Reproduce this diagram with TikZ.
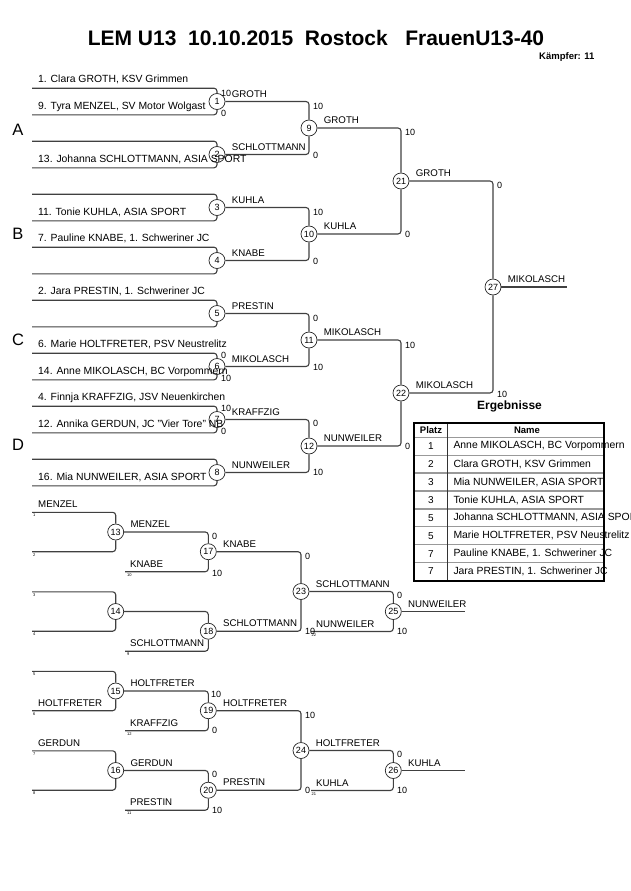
\documentclass[tikz,border=0pt]{standalone}
\usepackage{fontspec}
\setmainfont{Liberation Sans}

\begin{document}
\begin{tikzpicture}[x=1pt,y=-1pt,
    line/.style={draw=black!75, line width=1.1pt, rounded corners=3pt},
    fight/.style={circle, draw=black!85, line width=0.7pt, minimum size=16pt, inner sep=0pt, font=\fontsize{9}{9}\selectfont},
    entry/.style={anchor=base west, inner sep=0pt, font=\fontsize{10.4}{12}\selectfont},
    winner/.style={anchor=base west, inner sep=0pt, font=\fontsize{9.7}{11}\selectfont},
    score/.style={anchor=west, inner sep=0pt, font=\fontsize{9}{10}\selectfont},
    seed/.style={anchor=north west, inner sep=0pt, font=\fontsize{4}{4}\selectfont},
    pool/.style={font=\fontsize{16.5}{17}\selectfont}]
    \useasboundingbox (0,0) rectangle (630,891);

    % draw title
    \node[font=\bfseries\fontsize{21}{23}\selectfont] (title) at (316,38) {LEM U13\ \ 10.10.2015\ \ Rostock\ \ \ FrauenU13-40};
    \node[anchor=east, font=\bfseries\fontsize{9.5}{10}\selectfont] (count) at (598,57) {Kämpfer: 11};

    % main bracket, first round
    \foreach \k in {1,...,8} {
        \pgfmathsetmacro\yc{101.5+53*(\k-1)}
        \node[fight] (f\k) at (217,\yc) {\k};
        \coordinate (e\k-1) at (32,\yc-13.3);
        \coordinate (e\k-2) at (32,\yc+13.3);
        \draw[line] (e\k-1) -| (f\k);
        \draw[line] (e\k-2) -| (f\k);
    }
    % main bracket, later rounds
    \foreach \k/\a/\b/\x/\y in {9/1/2/309/128, 10/3/4/309/234, 11/5/6/309/340, 12/7/8/309/446,
                                21/9/10/401/181, 22/11/12/401/393, 27/21/22/493/287} {
        \node[fight] (f\k) at (\x,\y) {\k};
        \draw[line] (f\a) -| (f\k);
        \draw[line] (f\b) -| (f\k);
    }
    \coordinate (final) at (567,287);
    \draw[line] (f27) -- (final);

    % pools
    \foreach \p/\y in {A/130, B/234, C/340, D/445}
        \node[pool] (pool\p) at (18,\y) {\p};

    % draw entry names
    \path (e1-1) ++(6,-5.5) node[entry] (n1) {1. Clara GROTH, KSV Grimmen};
    \path (e1-2) ++(6,-5.5) node[entry] (n9) {9. Tyra MENZEL, SV Motor Wolgast};
    \path (e2-2) ++(6,-5.5) node[entry] (n13) {13. Johanna SCHLOTTMANN, ASIA SPORT};
    \path (e3-2) ++(6,-5.5) node[entry] (n11) {11. Tonie KUHLA, ASIA SPORT};
    \path (e4-1) ++(6,-5.5) node[entry] (n7) {7. Pauline KNABE, 1. Schweriner JC};
    \path (e5-1) ++(6,-5.5) node[entry] (n2) {2. Jara PRESTIN, 1. Schweriner JC};
    \path (e6-1) ++(6,-5.5) node[entry] (n6) {6. Marie HOLTFRETER, PSV Neustrelitz};
    \path (e6-2) ++(6,-5.5) node[entry] (n14) {14. Anne MIKOLASCH, BC Vorpommern};
    \path (e7-1) ++(6,-5.5) node[entry] (n4) {4. Finnja KRAFFZIG, JSV Neuenkirchen};
    \path (e7-2) ++(6,-5.5) node[entry] (n12) {12. Annika GERDUN, JC "Vier Tore" NB};
    \path (e8-2) ++(6,-5.5) node[entry] (n16) {16. Mia NUNWEILER, ASIA SPORT};

    % repechage, first round
    \foreach \k/\y/\sa/\sb in {13/532/1/2, 14/611.5/3/4, 15/691/5/6, 16/770.5/7/8} {
        \node[fight] (f\k) at (115.7,\y) {\k};
        \coordinate (e\k-1) at (32,\y-19.7);
        \coordinate (e\k-2) at (32,\y+19.7);
        \draw[line] (e\k-1) -| (f\k);
        \draw[line] (e\k-2) -| (f\k);
        \path (e\k-1) ++(1,1.6) node[seed] (sd\sa) {\sa};
        \path (e\k-2) ++(1,1.6) node[seed] (sd\sb) {\sb};
    }
    % repechage, second round
    \foreach \k/\a/\y/\s in {17/13/551.7/10, 18/14/631.2/9, 19/15/710.7/12, 20/16/790.2/11} {
        \node[fight] (f\k) at (208.3,\y) {\k};
        \coordinate (e\k-2) at (125,\y+20);
        \draw[line] (f\a) -| (f\k);
        \draw[line] (e\k-2) -| (f\k);
        \path (e\k-2) ++(2,1.6) node[seed] (sd\s) {\s};
    }
    \foreach \k/\a/\b/\y in {23/17/18/591.5, 24/19/20/750.5} {
        \node[fight] (f\k) at (301,\y) {\k};
        \draw[line] (f\a) -| (f\k);
        \draw[line] (f\b) -| (f\k);
    }
    % bronze fights
    \foreach \k/\a/\y/\s in {25/23/611.5/22, 26/24/770.5/21} {
        \node[fight] (f\k) at (393.3,\y) {\k};
        \coordinate (e\k-2) at (311,\y+20);
        \coordinate (out\k) at (465,\y);
        \draw[line] (f\a) -| (f\k);
        \draw[line] (e\k-2) -| (f\k);
        \draw[line] (f\k) -- (out\k);
        \path (e\k-2) ++(0.5,1.6) node[seed] (sd\s) {\s};
    }

    % repechage entry names
    \path (e13-1) ++(6,-4.5) node[winner] (r13) {MENZEL};
    \path (e15-2) ++(6,-4.5) node[winner] (r15) {HOLTFRETER};
    \path (e16-1) ++(6,-4.5) node[winner] (r16) {GERDUN};
    \path (e17-2) ++(5,-4.5) node[winner] (r17) {KNABE};
    \path (e18-2) ++(5,-4.5) node[winner] (r18) {SCHLOTTMANN};
    \path (e19-2) ++(5,-4.5) node[winner] (r19) {KRAFFZIG};
    \path (e20-2) ++(5,-4.5) node[winner] (r20) {PRESTIN};
    \path (e25-2) ++(5,-4.5) node[winner] (r25) {NUNWEILER};
    \path (e26-2) ++(5,-4.5) node[winner] (r26) {KUHLA};

    % winners
    \foreach \k/\w in {1/GROTH, 2/SCHLOTTMANN, 3/KUHLA, 4/KNABE, 5/PRESTIN, 6/MIKOLASCH, 7/KRAFFZIG,
                       8/NUNWEILER, 9/GROTH, 10/KUHLA, 11/MIKOLASCH, 12/NUNWEILER, 21/GROTH, 22/MIKOLASCH,
                       27/MIKOLASCH, 13/MENZEL, 15/HOLTFRETER, 16/GERDUN, 17/KNABE, 18/SCHLOTTMANN,
                       19/HOLTFRETER, 20/PRESTIN, 23/SCHLOTTMANN, 24/HOLTFRETER, 25/NUNWEILER, 26/KUHLA}
        \path (f\k) ++(14.7,-4.5) node[winner] (w\k) {\w};

    % scores
    \foreach \x/\y/\s [count=\i] in {221/93/10, 221/113/0, 221/355/0, 221/378/10, 221/408/10, 221/431/0,
            313/106/10, 313/155/0, 313/212/10, 313/261/0, 313/318/0, 313/367/10, 313/423/0, 313/472/10,
            405/132/10, 405/234/0, 405/345/10, 405/446/0, 497/185/0, 497/394/10,
            212/536/0, 212/573/10, 211/694.5/10, 212/730/0, 212/774/0, 212/810/10,
            305/556.5/0, 305/631.5/10, 305/715/10, 305/790/0,
            397/595/0, 397/631.5/10, 397/754/0, 397/790/10}
        \node[score] (sc\i) at (\x,\y) {\s};

    % results table
    \node[font=\bfseries\fontsize{12}{13}\selectfont] (restitle) at (509.5,406) {Ergebnisse};
    \node[font=\bfseries\fontsize{9.5}{10}\selectfont] (hplatz) at (431,430) {Platz};
    \node[font=\bfseries\fontsize{9.5}{10}\selectfont] (hname) at (527,430) {Name};
    \foreach \i in {0,...,7}
        \draw[gray!80, line width=1.3pt] (414,437.3+17.9*\i) -- (604,437.3+17.9*\i);
    \draw[black!80, line width=1pt] (447.3,423.3) -- (447.3,580.7);
    \begin{scope}
        \clip (414,423) rectangle (630,581);
        \foreach \i/\p/\n in {1/1/{Anne MIKOLASCH, BC Vorpommern}, 2/2/{Clara GROTH, KSV Grimmen},
                              3/3/{Mia NUNWEILER, ASIA SPORT}, 4/3/{Tonie KUHLA, ASIA SPORT},
                              5/5/{Johanna SCHLOTTMANN, ASIA SPORT}, 6/5/{Marie HOLTFRETER, PSV Neustrelitz},
                              7/7/{Pauline KNABE, 1. Schweriner JC}, 8/7/{Jara PRESTIN, 1. Schweriner JC}} {
            \node[font=\fontsize{10}{11}\selectfont] (pl\i) at (431,437.3+17.9*\i-8.95) {\p};
            \node[anchor=west, inner sep=0pt, font=\fontsize{10.4}{11}\selectfont] (nm\i) at (453.3,437.3+17.9*\i-8.95) {\n};
        }
    \end{scope}
    \draw[black, line width=1.8pt] (414,423.3) rectangle (604,580.7);
\end{tikzpicture}
\end{document}
